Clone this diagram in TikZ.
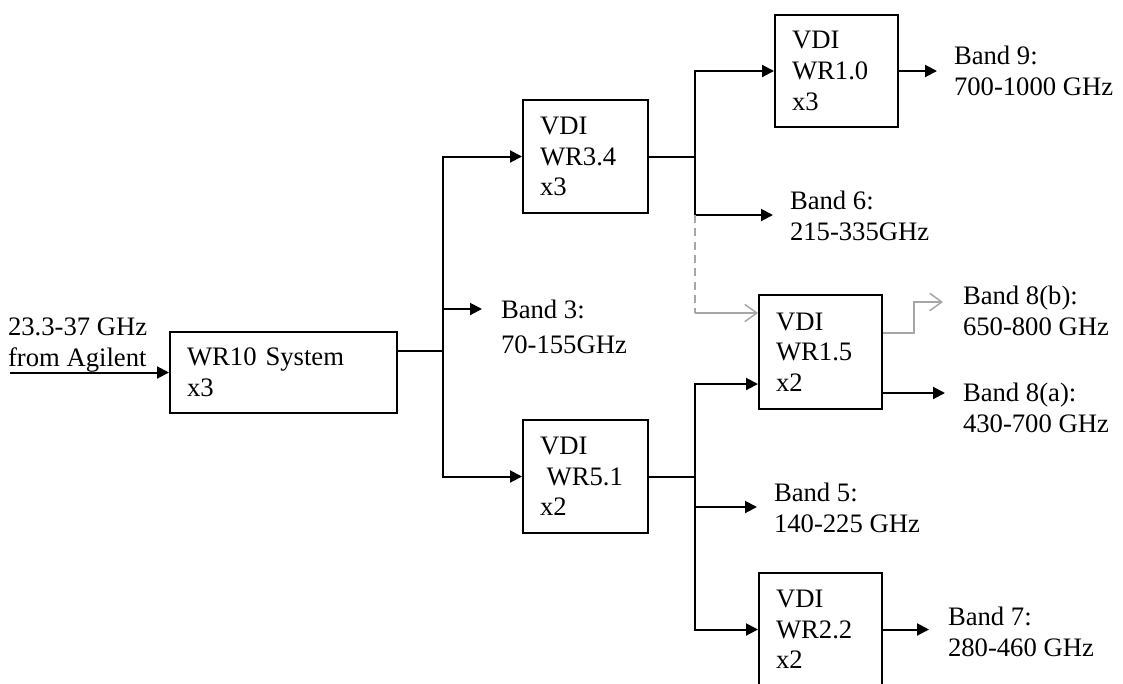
\documentclass[tikz,border=0pt]{standalone}
\usepackage{fontspec}
\setmainfont{Liberation Serif}
\usetikzlibrary{arrows.meta}
\usetikzlibrary{positioning}

\definecolor{linegray}{RGB}{166,166,166}

\begin{document}
\begin{tikzpicture}[
        x=0.75pt, y=-0.75pt,
        font=\fontsize{20}{23}\selectfont,
        line width=1.5pt,
        % boxes for the multiplier stages
        vdibox/.style={rectangle, draw, align=left, inner xsep=12.75pt, inner ysep=0pt, text width=68.25pt, minimum height=84.75pt},
        % box for the WR10 system
        sysbox/.style={vdibox, text width=144.75pt, minimum height=60.75pt},
        % output band texts
        bandlabel/.style={anchor=north west, inner sep=0pt, align=left},
        % connectors
        arr/.style={-{Triangle[length=9pt,width=9pt]}},
        greyarr/.style={draw=linegray, line width=1.1pt, -{Straight Barb[length=9pt,width=13pt]}},
        greydash/.style={draw=linegray, line width=1.1pt, dash pattern=on 6pt off 4pt}
    ]
    \useasboundingbox (0,0) rectangle (1123,683);

    % --- 1. BOXES ---
    \node[sysbox] (sys) at (283.5,372.5) {WR10 System\\x3};
    \node[vdibox] (wr34) at (585.5,156.5) {VDI\\WR3.4\\x3};
    \node[vdibox] (wr51) at (585.5,476.5) {VDI\\\hspace*{5pt}WR5.1\\x2};
    \node[vdibox, text width=66.75pt, minimum height=84pt] (wr10) at (836.5,71) {VDI\\WR1.0\\x3};
    \node[vdibox, text width=66.75pt, minimum height=85.5pt] (wr15) at (820.5,352) {VDI\\WR1.5\\x2};
    \node[vdibox, text width=66.75pt] (wr22) at (820.5,629.5) {VDI\\WR2.2\\x2};

    % --- 2. TEXTS ---
    \node[bandlabel] (src) at (7,317) {23.3-37 GHz\\from Agilent};
    \node[bandlabel] (b3) at (500,299) {Band 3:\\[3pt]70-155GHz};
    \node[bandlabel] (b6) at (789,190) {Band 6:\\215-335GHz};
    \node[bandlabel] (b9) at (953,45) {Band 9:\\700-1000 GHz};
    \node[bandlabel] (b8b) at (962,285) {Band 8(b):\\650-800 GHz};
    \node[bandlabel] (b8a) at (962,382) {Band 8(a):\\430-700 GHz};
    \node[bandlabel] (b5) at (773,482) {Band 5:\\140-225 GHz};
    \node[bandlabel] (b7) at (947,606) {Band 7:\\280-460 GHz};

    % junctions and arrow ends
    \coordinate (in) at (10,372.5);
    \coordinate (j1) at (443,351);
    \coordinate (j2) at (695,156.5);
    \coordinate (j3) at (695,476.5);
    \coordinate (t3) at (482,309);
    \coordinate (t6) at (773,215);
    \coordinate (t9) at (937,71);
    \coordinate (t8b) at (943,302);
    \coordinate (t8a) at (945,393);
    \coordinate (t5) at (757,507);
    \coordinate (t7) at (929,629.5);
    \coordinate (g15) at ([yshift=29.25pt]wr15.west);

    % --- 3. CONNECTIONS ---
    \draw[arr] (in) -- (sys.west);
    \draw (sys.east |- j1) -- (j1);
    \draw[arr] (j1) |- (wr34.west);
    \draw[arr] (j1) |- (wr51.west);
    \draw[arr] (j1 |- t3) -- (t3);

    % upper branch
    \draw (wr34.east) -- (j2);
    \draw[arr] (j2) |- (wr10.west);
    \draw[arr] (j2) |- (t6);
    \draw[arr] (wr10.east) -- (t9);
    \draw[greydash] (j2 |- t6) -- (j2 |- g15);
    \draw[greyarr] (j2 |- g15) -- (g15);
    \draw[greyarr] ([yshift=14.25pt]wr15.east) -| ([xshift=-21.75pt]t8b) -- (t8b);
    \draw[arr] (wr15.east |- t8a) -- (t8a);

    % lower branch
    \draw (wr51.east) -- (j3);
    \draw[arr] (j3) |- ([yshift=-24pt]wr15.west);
    \draw[arr] (j3) |- (t5);
    \draw[arr] (j3) |- (wr22.west);
    \draw[arr] (wr22.east) -- (t7);

\end{tikzpicture}
\end{document}
